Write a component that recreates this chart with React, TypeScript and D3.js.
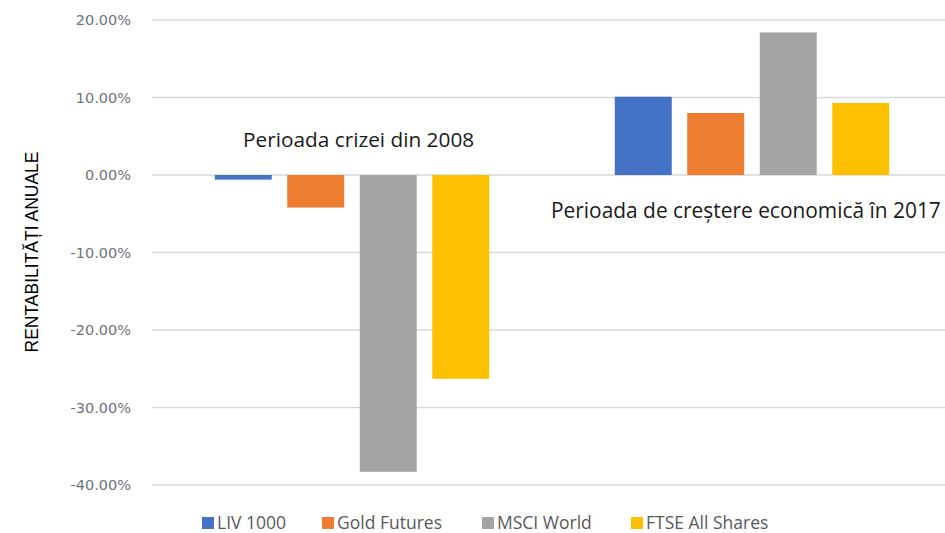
import React from 'react'
import * as d3 from 'd3'

// values (annual returns, %)
const periods = ['2008', '2017']
const seriesNames = ['LIV 1000', 'Gold Futures', 'MSCI World', 'FTSE All Shares']
const returns2008 = [-0.6, -4.2, -38.3, -26.3]
const returns2017 = [10.1, 8.0, 18.4, 9.3]
const yTicks = [20, 10, 0, -10, -20, -30, -40]
const periodLabels = ['Perioada crizei din 2008', 'Perioada de creștere economică în 2017']
const colors = ['#4472C4', '#ED7D31', '#A5A5A5', '#FFC000']

const W = 945
const H = 533

const App = () => {
  const values = [returns2008, returns2017]

  // y scale (percent)
  const y = d3.scaleLinear().domain([-40, 20]).range([485, 20])

  // outer band per period, inner band per series
  const x0 = d3.scaleBand().domain(periods).range([152, 952]).paddingInner(0).paddingOuter(0)
  const x1 = d3.scaleBand()
    .domain(seriesNames)
    .range([0, x0.bandwidth()])
    .paddingInner(0.214)
    .paddingOuter(0.866)

  // plain hyphen for negatives, like the original
  const fmt = (d: number) => d3.format('.2f')(d).replace('\u2212', '-') + '%'
  const font = "'Open Sans', 'Noto Sans', sans-serif"

  // legend layout (x of each colored square)
  const legendX = [202, 322, 482, 631]

  return (
    <svg width={W} height={H} style={{ position: 'absolute', left: 0, top: 0, background: '#fff' }}>
      {/* grid lines */}
      <g>
        {yTicks.map((t) => (
          <line key={t} x1={152} x2={W} y1={y(t)} y2={y(t)} stroke='#d9d9d9' strokeWidth={1.3} />
        ))}
      </g>

      {/* tick labels */}
      <g fontFamily="'DejaVu Sans', sans-serif" fontSize={14.5} fill='#6f737a' textAnchor='end'>
        {yTicks.map((t) => (
          <text key={t} x={131} y={y(t)} dy='0.36em'>{fmt(t)}</text>
        ))}
      </g>

      {/* axis title */}
      <text
        transform={`translate(38,${252}) rotate(-90)`}
        textAnchor='middle'
        fontFamily="'Liberation Sans', Arial, sans-serif"
        fontSize={17.5}
        fill='#000'
      >
        RENTABILITĂȚI ANUALE
      </text>

      {/* bars */}
      {periods.map((p, pi) => (
        <g key={p} transform={`translate(${x0(p)},0)`}>
          {seriesNames.map((s, si) => {
            const v = values[pi][si]
            return (
              <rect
                key={s}
                x={x1(s)}
                width={x1.bandwidth()}
                y={y(Math.max(0, v))}
                height={Math.abs(y(v) - y(0))}
                fill={colors[si]}
              />
            )
          })}
        </g>
      ))}

      {/* period annotations */}
      <text x={243} y={147} fontFamily={font} fontSize={20.8} fill='#1a1a1a'>{periodLabels[0]}</text>
      <text x={551} y={218} fontFamily={font} fontSize={20.9} fill='#1a1a1a'>{periodLabels[1]}</text>

      {/* legend */}
      <g fontFamily={font} fontSize={17.5} fill='#595959'>
        {seriesNames.map((s, i) => (
          <g key={s} transform={`translate(${legendX[i]},0)`}>
            <rect x={0} y={517} width={12} height={12} fill={colors[i]} />
            <text x={15} y={528.5}>{s}</text>
          </g>
        ))}
      </g>
    </svg>
  )
}

export default App
